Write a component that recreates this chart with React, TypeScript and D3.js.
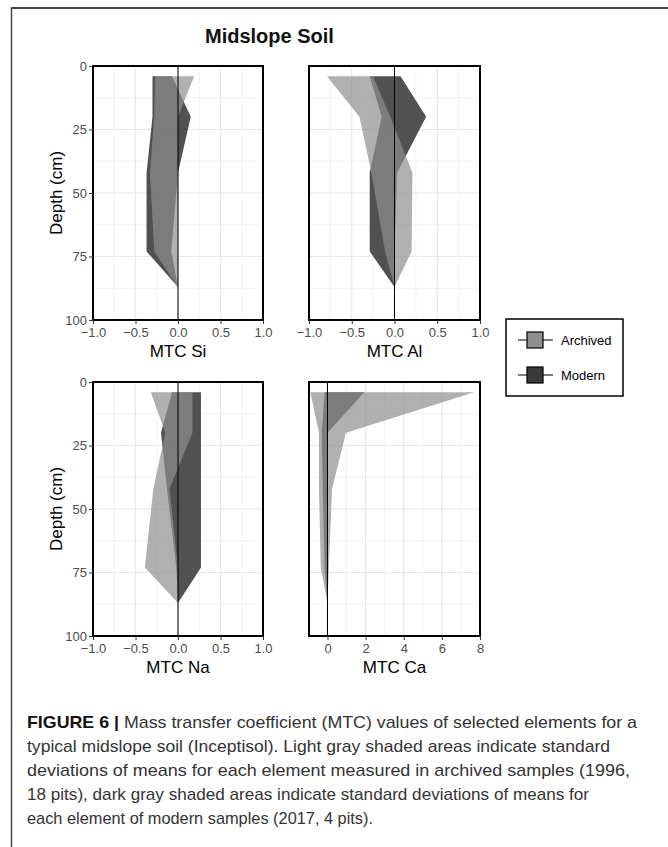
import { useEffect, useRef } from "react";
import * as d3 from "d3";

// depth of each horizon midpoint (cm)
const depths = [4, 20, 42, 73, 87];

// MTC ranges (mean +/- sd), lower and upper edge per depth
const siArchivedLo = [-0.27, -0.28, -0.33, -0.28, 0];
const siArchivedHi = [0.19, 0.0, 0.0, 0.0, 0];
const siModernLo = [-0.3, -0.3, -0.37, -0.37, 0];
const siModernHi = [-0.07, 0.15, 0.0, -0.08, 0];

const alArchivedLo = [-0.79, -0.41, -0.27, -0.11, 0];
const alArchivedHi = [-0.25, -0.05, 0.21, 0.2, 0];
const alModernLo = [-0.29, -0.15, -0.29, -0.29, 0];
const alModernHi = [0.07, 0.37, 0.03, 0.0, 0];

const naArchivedLo = [-0.32, -0.15, -0.29, -0.39, 0];
const naArchivedHi = [0.17, 0.17, -0.1, 0.0, 0];
const naModernLo = [-0.07, -0.2, -0.13, -0.02, 0];
const naModernHi = [0.27, 0.27, 0.27, 0.27, 0];

const caArchivedLo = [-0.9, -0.45, -0.45, -0.35, 0];
const caArchivedHi = [7.7, 0.97, 0.24, 0.07, 0];
const caModernLo = [-0.15, -0.3, -0.25, -0.15, 0];
const caModernHi = [1.93, 0.0, 0.0, 0.0, 0];

const depthTicks = [0, 25, 50, 75, 100];
const mtcTicks = [-1, -0.5, 0, 0.5, 1];
const caTicks = [0, 2, 4, 6, 8];

const seriesNames = ["Archived", "Modern"];

const captionLead = "FIGURE 6 | ";
const captionLines = [
  "Mass transfer coefficient (MTC) values of selected elements for a",
  "typical midslope soil (Inceptisol). Light gray shaded areas indicate standard",
  "deviations of means for each element measured in archived samples (1996,",
  "18 pits), dark gray shaded areas indicate standard deviations of means for",
  "each element of modern samples (2017, 4 pits).",
];
const captionWidths = [610, 583, 603, 562, 346];

const FONT = "'Liberation Sans', Arial, Helvetica, sans-serif";

const App = () => {
  const svgRef = useRef<SVGSVGElement | null>(null);

  useEffect(() => {
    const width = 668;
    const height = 847;
    const cols = [
      [93, 263],
      [309, 480],
    ];
    const rows = [
      [66, 320],
      [382, 636],
    ];

    const panels = [
      { name: "Si", col: 0, row: 0, domain: [-1, 1], ticks: mtcTicks, arch: [siArchivedLo, siArchivedHi], mod: [siModernLo, siModernHi] },
      { name: "Al", col: 1, row: 0, domain: [-1, 1], ticks: mtcTicks, arch: [alArchivedLo, alArchivedHi], mod: [alModernLo, alModernHi] },
      { name: "Na", col: 0, row: 1, domain: [-1, 1], ticks: mtcTicks, arch: [naArchivedLo, naArchivedHi], mod: [naModernLo, naModernHi] },
      { name: "Ca", col: 1, row: 1, domain: [-0.97, 8], ticks: caTicks, arch: [caArchivedLo, caArchivedHi], mod: [caModernLo, caModernHi] },
    ];

    const svg = d3.select(svgRef.current);
    svg.selectAll("*").remove();
    svg.attr("width", width).attr("height", height);

    svg.append("rect").attr("width", width).attr("height", height).attr("fill", "white");

    // figure frame (top and left rules)
    svg.append("line").attr("x1", 11).attr("x2", width).attr("y1", 8).attr("y2", 8)
      .attr("stroke", "#444").attr("stroke-width", 2);
    svg.append("line").attr("x1", 11.5).attr("x2", 11.5).attr("y1", 8).attr("y2", height)
      .attr("stroke", "#444").attr("stroke-width", 1.5);

    // title
    svg.append("text")
      .attr("x", 205).attr("y", 43)
      .style("font-family", FONT).style("font-size", "20px").style("font-weight", "bold")
      .attr("fill", "#111")
      .text("Midslope Soil");

    panels.forEach((p) => {
      const [x0, x1] = cols[p.col];
      const [y0, y1] = rows[p.row];
      const x = d3.scaleLinear().domain(p.domain).range([x0, x1]);
      const y = d3.scaleLinear().domain([0, 100]).range([y0, y1]);
      const g = svg.append("g");

      // minor grid
      const step = p.ticks[1] - p.ticks[0];
      const minorX = d3.pairs([p.ticks[0] - step, ...p.ticks]).map(([a, b]) => (a + b) / 2)
        .filter((v) => v > p.domain[0] && v < p.domain[1]);
      const minorY = d3.pairs(depthTicks).map(([a, b]) => (a + b) / 2);
      minorX.forEach((v) => {
        g.append("line").attr("x1", x(v)).attr("x2", x(v)).attr("y1", y0).attr("y2", y1)
          .attr("stroke", "#f3f3f3").attr("stroke-width", 1);
      });
      minorY.forEach((v) => {
        g.append("line").attr("x1", x0).attr("x2", x1).attr("y1", y(v)).attr("y2", y(v))
          .attr("stroke", "#f3f3f3").attr("stroke-width", 1);
      });
      // major grid
      p.ticks.forEach((v) => {
        g.append("line").attr("x1", x(v)).attr("x2", x(v)).attr("y1", y0).attr("y2", y1)
          .attr("stroke", "#e8e8e8").attr("stroke-width", 1.2);
      });
      depthTicks.forEach((v) => {
        g.append("line").attr("x1", x0).attr("x2", x1).attr("y1", y(v)).attr("y2", y(v))
          .attr("stroke", "#e8e8e8").attr("stroke-width", 1.2);
      });

      // modern (dark) underneath, archived (light) on top
      const modArea = d3.area<number>()
        .y((d) => y(d))
        .x0((_, i) => x(p.mod[0][i]))
        .x1((_, i) => x(p.mod[1][i]));
      const archArea = d3.area<number>()
        .y((d) => y(d))
        .x0((_, i) => x(p.arch[0][i]))
        .x1((_, i) => x(p.arch[1][i]));

      g.append("path").datum(depths).attr("d", modArea)
        .attr("fill", "#333").attr("fill-opacity", 0.85);
      g.append("path").datum(depths).attr("d", archArea)
        .attr("fill", "#8f8f8f").attr("fill-opacity", 0.7);

      // zero line
      g.append("line").attr("x1", x(0)).attr("x2", x(0)).attr("y1", y0).attr("y2", y1)
        .attr("stroke", "#000").attr("stroke-width", 1);

      // panel border
      g.append("rect").attr("x", x0).attr("y", y0).attr("width", x1 - x0).attr("height", y1 - y0)
        .attr("fill", "none").attr("stroke", "#000").attr("stroke-width", 2);

      // x axis
      const xAxis = g.append("g").attr("transform", `translate(0,${y1})`)
        .call(d3.axisBottom(x).tickValues(p.ticks).tickSize(4).tickPadding(4)
          .tickFormat(p.name === "Ca" ? d3.format("d") : d3.format(".1f")));
      xAxis.select(".domain").remove();
      xAxis.selectAll("line").attr("stroke", "#333");
      xAxis.selectAll("text").style("font-family", FONT).style("font-size", "13px").attr("fill", "#4d4d4d");

      g.append("text")
        .attr("x", (x0 + x1) / 2).attr("y", y1 + 37)
        .attr("text-anchor", "middle")
        .style("font-family", FONT).style("font-size", "17px").attr("fill", "#000")
        .text(`MTC ${p.name}`);

      if (p.col === 0) {
        const yAxis = g.append("g").attr("transform", `translate(${x0},0)`)
          .call(d3.axisLeft(y).tickValues(depthTicks).tickSize(4).tickPadding(2));
        yAxis.select(".domain").remove();
        yAxis.selectAll("line").attr("stroke", "#333");
        yAxis.selectAll("text").style("font-family", FONT).style("font-size", "13px").attr("fill", "#4d4d4d");

        g.append("text")
          .attr("transform", `translate(62,${(y0 + y1) / 2}) rotate(-90)`)
          .attr("text-anchor", "middle")
          .style("font-family", FONT).style("font-size", "17px").attr("fill", "#000")
          .text("Depth (cm)");
      }
    });

    // legend
    const lg = svg.append("g");
    lg.append("rect").attr("x", 506).attr("y", 319).attr("width", 117).attr("height", 77)
      .attr("fill", "white").attr("stroke", "#000").attr("stroke-width", 1.5);
    const keyFill = ["#8f8f8f", "#3a3a3a"];
    const keyY = d3.scalePoint<string>().domain(seriesNames).range([340, 375]);
    seriesNames.forEach((s, i) => {
      const cy = keyY(s) as number;
      lg.append("line").attr("x1", 518).attr("x2", 553).attr("y1", cy).attr("y2", cy)
        .attr("stroke", "#000").attr("stroke-width", 1.2);
      lg.append("rect").attr("x", 527).attr("y", cy - 8).attr("width", 16).attr("height", 16)
        .attr("fill", keyFill[i]).attr("stroke", "#000").attr("stroke-width", 1.2);
      lg.append("text").attr("x", 561).attr("y", cy + 4.5)
        .style("font-family", FONT).style("font-size", "13px").attr("fill", "#000")
        .text(s);
    });

    // caption
    const cap = svg.append("g").style("font-family", FONT).style("font-size", "17px");
    captionLines.forEach((line, i) => {
      const t = cap.append("text")
        .attr("x", 27).attr("y", 728 + i * 24)
        .attr("textLength", captionWidths[i]).attr("lengthAdjust", "spacingAndGlyphs")
        .attr("fill", "#333");
      if (i === 0) {
        t.append("tspan").style("font-weight", "bold").attr("fill", "#111").text(captionLead);
        t.append("tspan").text(line);
      } else {
        t.text(line);
      }
    });
  }, []);

  return (
    <div style={{ position: "absolute", left: 0, top: 0 }}>
      <svg ref={svgRef} style={{ display: "block" }}></svg>
    </div>
  );
};

export default App;
